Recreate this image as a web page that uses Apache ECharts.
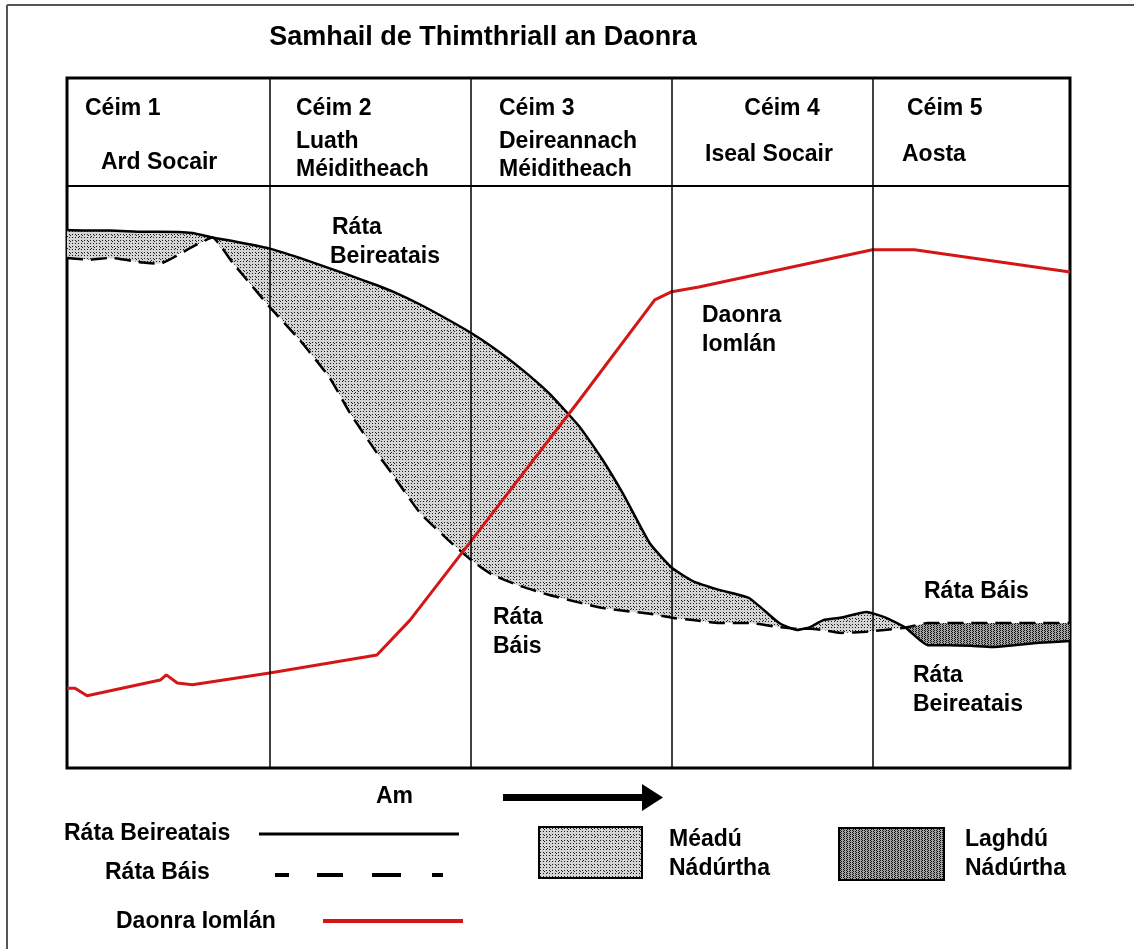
<!DOCTYPE html>
<html>
<head>
<meta charset="utf-8">
<script src="https://cdn.jsdelivr.net/npm/echarts@6/dist/echarts.min.js"></script>
<style>
  html, body { margin: 0; padding: 0; background: #fff; }
  #main { width: 1134px; height: 949px; }
</style>
</head>
<body>
<div id="main"></div>
<script>
// time runs 0..100 across the five stages, rates 0..100 inside the plot box
var timeX = [0, 2.3, 4.3, 7.6, 9.2, 12.5, 14.5, 16.5, 20.2, 23.2, 26.2, 28.2, 30.9, 32.5, 35.2, 38.1, 40.3, 42.4, 45.1, 48.1,
    51.1, 53.3, 55.5, 58.1, 60.3, 62.4, 65.0, 68.0, 71.0, 72.8, 74.1, 75.4, 77.1, 79.7, 81.5, 83.6, 85.8, 87.9, 90.1, 92.2,
    94.4, 96.9, 100];
var birthRate = [92.4, 92.3, 92.3, 92.1, 92.1, 91.9, 91.1, 90.5, 89.2, 87.6, 85.8, 84.6, 82.9, 81.8, 79.6, 76.9, 74.7, 72.3, 68.8, 64.3,
    58.6, 53.2, 46.9, 38.6, 34.4, 32.1, 30.6, 29.2, 24.9, 23.7, 24.2, 25.4, 25.8, 26.8, 25.9, 24.1, 21.1, 21.1, 21.0, 20.8,
    21.1, 21.5, 21.8];
var deathRate = [87.6, 87.3, 87.6, 86.8, 86.6, 89.5, 91.1, 86.8, 79.2, 73.5, 67.0, 61.0, 54.1, 50.3, 43.8, 39.0, 35.7, 33.2, 31.3, 29.7,
    28.4, 27.5, 27.0, 26.5, 25.8, 25.4, 24.9, 24.9, 24.2, 23.9, 23.9, 23.7, 23.2, 23.4, 23.7, 24.1, 24.9, 24.9, 24.9, 24.9,
    24.9, 24.9, 24.9];
var popX = [0, 0.8, 2.0, 9.3, 9.9, 11.0, 12.5, 20.2, 30.9, 34.2, 40.3, 51.1, 58.6, 60.3, 63.0, 80.3, 84.5, 100];
var popTotal = [13.7, 13.7, 12.4, 15.1, 16.0, 14.6, 14.3, 16.3, 19.4, 25.4, 39.0, 63.2, 80.4, 81.8, 82.6, 89.0, 89.0, 85.2];
var stageBounds = [20.2, 40.3, 60.3, 80.3];
var headerLine = 100;

var FONT = '"Liberation Sans", Arial, sans-serif';

function pairs(xs, ys) {
    return xs.map(function (x, i) { return [x, ys[i]]; });
}

function makeTile(size, bg, dot, test) {
    var c = document.createElement('canvas');
    c.width = size; c.height = size;
    var g = c.getContext('2d');
    g.fillStyle = bg;
    g.fillRect(0, 0, size, size);
    g.fillStyle = dot;
    for (var i = 0; i < size; i++) {
        for (var j = 0; j < size; j++) {
            if (test(i, j)) g.fillRect(i, j, 1, 1);
        }
    }
    return c;
}

var incTile = makeTile(12, '#d4d4d4', '#1a1a1a', function (i, j) {
    return (i % 3 === 0 && j % 3 === 0) || (i % 6 === 4 && j % 6 === 1) || (i % 12 === 7 && j % 12 === 8);
});
var decTile = makeTile(6, '#a4a4a4', '#111', function (i, j) {
    return (i + j) % 2 === 0 && i % 3 !== 2;
});

// polygon between an upper curve and a lower curve, drawn through the axes
function band(upperOf, lowerOf, tile) {
    return function (params, api) {
        var top = timeX.map(function (x, i) { return api.coord([x, upperOf(i)]); });
        var bot = timeX.map(function (x, i) { return api.coord([x, lowerOf(i)]); }).reverse();
        return {
            type: 'polygon', silent: true,
            shape: { points: top.concat(bot) },
            style: { fill: { image: tile, repeat: 'repeat' }, stroke: null }
        };
    };
}

function txt(str, x, y, size, align) {
    return {
        type: 'text', x: x, y: y, silent: true,
        style: {
            text: str, fill: '#000', align: align || 'left', verticalAlign: 'middle',
            font: 'bold ' + (size || 23) + 'px ' + FONT
        }
    };
}
function seg(x1, y1, x2, y2, color, width, dash) {
    return {
        type: 'line', silent: true,
        shape: { x1: x1, y1: y1, x2: x2, y2: y2 },
        style: { stroke: color, lineWidth: width, lineDash: dash || null }
    };
}

var graphics = [
    // outer frame
    seg(7, 5, 1134, 5, '#555', 2),
    seg(7, 5, 7, 949, '#555', 2),
    txt('Samhail de Thimthriall an Daonra', 483, 38, 27, 'center'),
    // stage headings
    txt('Céim 1', 85, 109), txt('Ard Socair', 101, 163),
    txt('Céim 2', 296, 109), txt('Luath', 296, 142), txt('Méiditheach', 296, 170),
    txt('Céim 3', 499, 109), txt('Deireannach', 499, 142), txt('Méiditheach', 499, 170),
    txt('Céim 4', 782, 109, 23, 'center'), txt('Iseal Socair', 705, 155),
    txt('Céim 5', 907, 109), txt('Aosta', 902, 155),
    // curve labels
    txt('Ráta', 332, 228), txt('Beireatais', 330, 257),
    txt('Daonra', 702, 316), txt('Iomlán', 702, 345),
    txt('Ráta', 493, 618), txt('Báis', 493, 647),
    txt('Ráta Báis', 924, 592),
    txt('Ráta', 913, 676), txt('Beireatais', 913, 705),
    // time arrow
    txt('Am', 376, 797),
    { type: 'rect', silent: true, shape: { x: 503, y: 794, width: 142, height: 7 }, style: { fill: '#000' } },
    { type: 'polygon', silent: true, shape: { points: [[642, 784], [663, 797.5], [642, 811]] }, style: { fill: '#000' } },
    // key
    txt('Ráta Beireatais', 64, 834), seg(259, 834, 459, 834, '#000', 3),
    txt('Ráta Báis', 105, 873), seg(275, 875, 443, 875, '#000', 4, [14, 28, 26, 29, 29, 31, 11]),
    txt('Daonra Iomlán', 116, 922), seg(323, 921, 463, 921, '#d41616', 4),
    { type: 'rect', silent: true, shape: { x: 539, y: 827, width: 103, height: 51 },
      style: { fill: { image: incTile, repeat: 'repeat' }, stroke: '#000', lineWidth: 2 } },
    txt('Méadú', 669, 840), txt('Nádúrtha', 669, 869),
    { type: 'rect', silent: true, shape: { x: 839, y: 828, width: 105, height: 52 },
      style: { fill: { image: decTile, repeat: 'repeat' }, stroke: '#000', lineWidth: 2 } },
    txt('Laghdú', 965, 840), txt('Nádúrtha', 965, 869)
];

var divLines = stageBounds.map(function (v) { return { xAxis: v }; });
divLines.push({ yAxis: headerLine, lineStyle: { width: 2 } });

var chart = echarts.init(document.getElementById('main'), null, { renderer: 'canvas' });
chart.setOption({
    animation: false,
    backgroundColor: '#fff',
    grid: { left: 67, right: 64, top: 78, bottom: 181, show: true, borderColor: '#000', borderWidth: 3, backgroundColor: 'transparent' },
    xAxis: { type: 'value', min: 0, max: 100, show: false },
    yAxis: { type: 'value', min: 0, max: 118.5, show: false },
    series: [{
        name: 'Méadú Nádúrtha', type: 'custom', data: [[0, 0]], z: 1,
        renderItem: band(function (i) { return birthRate[i]; },
            function (i) { return Math.min(birthRate[i], deathRate[i]); }, incTile)
    }, {
        name: 'Laghdú Nádúrtha', type: 'custom', data: [[0, 0]], z: 1,
        renderItem: band(function (i) { return deathRate[i]; },
            function (i) { return Math.min(birthRate[i], deathRate[i]); }, decTile)
    }, {
        name: 'Ráta Beireatais', type: 'line', data: pairs(timeX, birthRate),
        showSymbol: false, smooth: 0.15, lineStyle: { color: '#000', width: 2.5 }, z: 3,
        markLine: {
            silent: true, symbol: 'none', label: { show: false },
            lineStyle: { color: '#000', width: 1.5, type: 'solid' },
            data: divLines
        }
    }, {
        name: 'Ráta Báis', type: 'line', data: pairs(timeX, deathRate),
        showSymbol: false, smooth: 0.15, lineStyle: { color: '#000', width: 2.5, type: [16, 8] }, z: 3
    }, {
        name: 'Daonra Iomlán', type: 'line', data: pairs(popX, popTotal),
        showSymbol: false, lineStyle: { color: '#d41616', width: 3 }, z: 4
    }],
    graphic: graphics
});
</script>
</body>
</html>
